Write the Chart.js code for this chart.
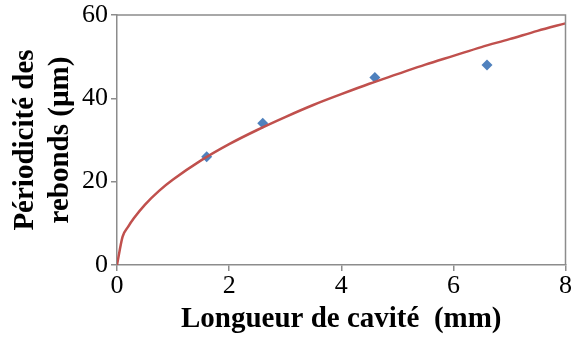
<!DOCTYPE html>
<html>
<head>
<meta charset="utf-8">
<script src="https://cdn.jsdelivr.net/npm/chart.js@4.4.0/dist/chart.umd.min.js"></script>
<style>
  html, body { margin: 0; padding: 0; background: #fff; }
  #wrap { width: 571px; height: 337px; position: relative; }
</style>
</head>
<body>
<div id="wrap"><canvas id="chart"></canvas></div>
<script>
// measured points (cavity length in mm, period in µm)
const measX = [1.6, 2.6, 4.6, 6.6];
const measY = [26, 34, 45, 48];

// fitted curve
const fitX = [0, 0.1, 0.2, 0.3, 0.5, 0.75, 1, 1.5, 2, 2.5, 3, 3.5, 4, 4.5, 5, 5.5, 6, 6.5, 7, 7.5, 8];
const fitY = [0, 6.8, 9.2, 11.2, 14.5, 17.8, 20.5, 25.1, 29.0, 32.4, 35.5, 38.4, 41.0, 43.5, 45.8, 48.1, 50.2, 52.3, 54.2, 56.2, 58.0];

const xTicks = [0, 2, 4, 6, 8];
const yTicks = [0, 20, 40, 60];

const axisColor = '#8c8c8c';
const serif = "'Liberation Serif', 'Times New Roman', serif";

new Chart(document.getElementById('chart'), {
  type: 'scatter',
  data: {
    datasets: [
      {
        label: 'fit',
        data: fitX.map((x, i) => ({ x: x, y: fitY[i] })),
        showLine: true,
        borderColor: '#c0504d',
        borderWidth: 2.5,
        pointRadius: 0,
        cubicInterpolationMode: 'monotone'
      },
      {
        label: 'mesures',
        data: measX.map((x, i) => ({ x: x, y: measY[i] })),
        pointStyle: 'rectRot',
        pointRadius: 5.5,
        backgroundColor: '#4f81bd',
        borderColor: '#4f81bd',
        borderWidth: 0
      }
    ]
  },
  options: {
    responsive: true,
    maintainAspectRatio: false,
    animation: false,
    layout: { padding: { top: 15, right: 4, left: 0, bottom: 0 } },
    plugins: {
      legend: { display: false },
      tooltip: { enabled: false }
    },
    scales: {
      x: {
        type: 'linear',
        min: 0,
        max: 8,
        afterBuildTicks: scale => { scale.ticks = xTicks.map(v => ({ value: v })); },
        afterFit: scale => { scale.height = 72; scale.paddingLeft = 0; scale.paddingRight = 0; },
        border: { color: axisColor, width: 1.5 },
        grid: { display: true, drawOnChartArea: false, tickLength: 6, color: axisColor, lineWidth: 1.5 },
        ticks: { color: '#000', font: { family: serif, size: 26, lineHeight: 1.0 }, padding: 2, maxRotation: 0 },
        title: {
          display: true,
          text: 'Longueur de cavité  (mm)',
          color: '#000',
          font: { family: serif, size: 29, weight: 'bold', lineHeight: 1.2 },
          padding: { top: 0, bottom: 0 }
        }
      },
      y: {
        type: 'linear',
        min: 0,
        max: 60,
        afterBuildTicks: scale => { scale.ticks = yTicks.map(v => ({ value: v })); },
        afterFit: scale => { scale.width = 117; scale.paddingTop = 0; scale.paddingBottom = 0; },
        border: { color: axisColor, width: 1.5 },
        grid: { display: true, drawOnChartArea: false, tickLength: 6, color: axisColor, lineWidth: 1.5 },
        ticks: { color: '#000', font: { family: serif, size: 26 }, padding: 3 },
        title: {
          display: true,
          text: ['Périodicité des', 'rebonds (µm)'],
          color: '#000',
          font: { family: serif, size: 29, weight: 'bold', lineHeight: 1.2 },
          padding: { top: 8, bottom: 0 }
        }
      }
    }
  },
  plugins: [{
    id: 'frame',
    afterDraw(chart) {
      const a = chart.chartArea, ctx = chart.ctx;
      ctx.save();
      ctx.strokeStyle = axisColor;
      ctx.lineWidth = 1.5;
      ctx.beginPath();
      ctx.moveTo(a.left, a.top);
      ctx.lineTo(a.right, a.top);
      ctx.lineTo(a.right, a.bottom);
      ctx.stroke();
      ctx.restore();
    }
  }]
});
</script>
</body>
</html>
